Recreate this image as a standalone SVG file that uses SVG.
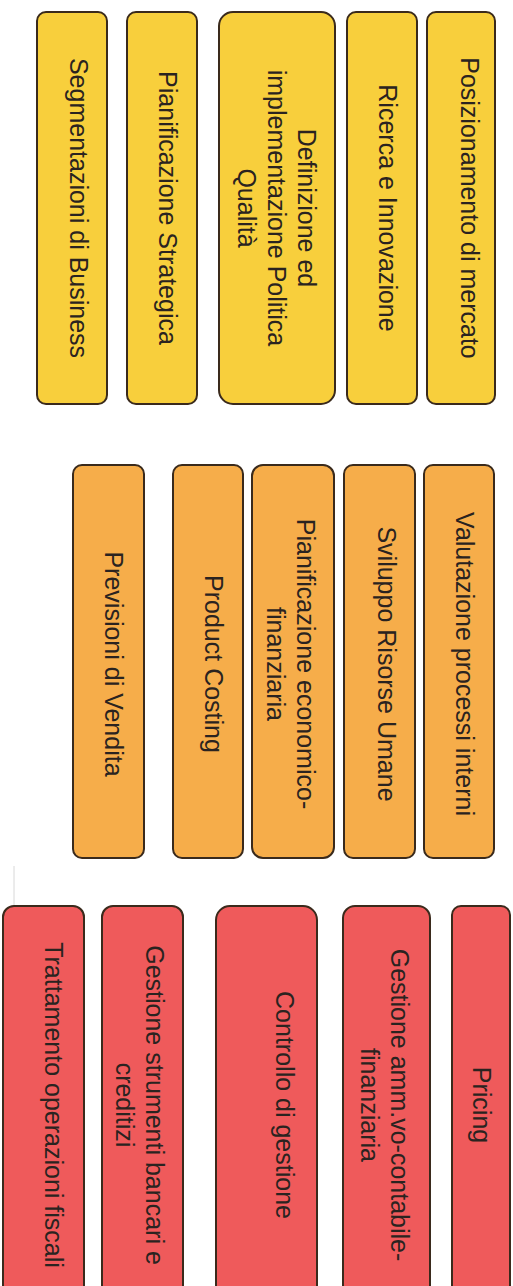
<svg xmlns="http://www.w3.org/2000/svg" width="513" height="1286" viewBox="0 0 513 1286">
<style>
.box{stroke:#3a2a1c;stroke-width:2}
.y{fill:#F8CF3C}
.o{fill:#F6AD4A}
.r{fill:#EF5A5B}
text{font-family:"Liberation Sans",Arial,sans-serif;font-size:25px;fill:#2a2320;text-anchor:middle;dominant-baseline:central}
</style>
<rect width="513" height="1286" fill="#ffffff"/>
<g id="connectors"></g>
<line x1="14" y1="866" x2="14" y2="985" stroke="#d8d8d8" stroke-width="1"/>

<g id="n-segmentazioni"><rect class="box y" x="37" y="12" width="70" height="392" rx="9"/><text transform="translate(79,208) rotate(90)">Segmentazioni di Business</text></g>
<g id="n-pianificazione-strategica"><rect class="box y" x="127" y="12" width="70" height="392" rx="9"/><text transform="translate(168,208) rotate(90)">Pianificazione Strategica</text></g>
<g id="n-definizione"><rect class="box y" x="219" y="12" width="116" height="392" rx="14"/><text transform="translate(277,208) rotate(90)"><tspan x="0" y="-30">Definizione ed</tspan><tspan x="0" y="0">implementazione Politica</tspan><tspan x="0" y="30">Qualità</tspan></text></g>
<g id="n-ricerca"><rect class="box y" x="347" y="12" width="70" height="392" rx="9"/><text transform="translate(388,208) rotate(90)">Ricerca e Innovazione</text></g>
<g id="n-posizionamento"><rect class="box y" x="427" y="12" width="68" height="392" rx="9"/><text transform="translate(470,208) rotate(90)">Posizionamento di mercato</text></g>

<g id="n-previsioni"><rect class="box o" x="73" y="465" width="71" height="393" rx="9"/><text transform="translate(114,664) rotate(90)">Previsioni di Vendita</text></g>
<g id="n-product-costing"><rect class="box o" x="173" y="465" width="70" height="393" rx="9"/><text transform="translate(214,664) rotate(90)">Product Costing</text></g>
<g id="n-pianificazione-ef"><rect class="box o" x="252" y="465" width="82" height="393" rx="11"/><text transform="translate(291,664) rotate(90)"><tspan x="0" y="-15">Pianificazione economico-</tspan><tspan x="0" y="15">finanziaria</tspan></text></g>
<g id="n-sviluppo"><rect class="box o" x="344" y="465" width="71" height="393" rx="9"/><text transform="translate(387,664) rotate(90)">Sviluppo Risorse Umane</text></g>
<g id="n-valutazione"><rect class="box o" x="424" y="465" width="70" height="393" rx="9"/><text transform="translate(465,664) rotate(90)">Valutazione processi interni</text></g>

<g id="n-trattamento"><rect class="box r" x="3" y="906" width="81" height="400" rx="11"/><text transform="translate(54,1105) rotate(90)">Trattamento operazioni fiscali</text></g>
<g id="n-gestione-strumenti"><rect class="box r" x="102" y="906" width="81" height="400" rx="11"/><text transform="translate(140,1105) rotate(90)"><tspan x="0" y="-15">Gestione strumenti bancari e</tspan><tspan x="0" y="15">creditizi</tspan></text></g>
<g id="n-controllo"><rect class="box r" x="216" y="906" width="101" height="400" rx="14"/><text transform="translate(285,1105) rotate(90)">Controllo di gestione</text></g>
<g id="n-gestione-amm"><rect class="box r" x="343" y="906" width="87" height="400" rx="12"/><text transform="translate(385,1105) rotate(90)"><tspan x="0" y="-15">Gestione amm.vo-contabile-</tspan><tspan x="0" y="15">finanziaria</tspan></text></g>
<g id="n-pricing"><rect class="box r" x="452" y="906" width="58" height="400" rx="9"/><text transform="translate(482,1105) rotate(90)">Pricing</text></g>
</svg>
